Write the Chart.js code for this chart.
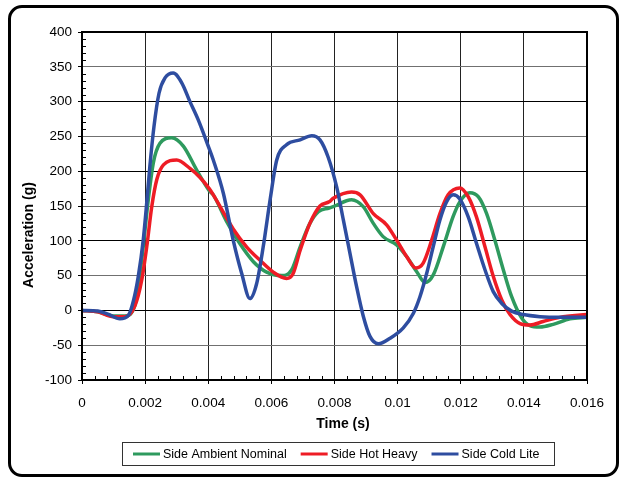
<!DOCTYPE html>
<html>
<head>
<meta charset="utf-8">
<script src="https://cdn.jsdelivr.net/npm/chart.js@4.4.1/dist/chart.umd.min.js"></script>
<style>
  html, body { margin: 0; padding: 0; background: #fff; }
  #frame {
    position: absolute; left: 8px; top: 5px; width: 611px; height: 472px;
    box-sizing: border-box; border: 3px solid #000; border-radius: 14px;
  }
  #wrap { position: absolute; left: 0; top: 0; width: 621px; height: 478px; }
</style>
</head>
<body>
<div id="frame"></div>
<div id="wrap"><canvas id="chart" width="621" height="478"></canvas></div>
<script>
// Series (time in s, acceleration in g)
const seriesLabels = ['Side Ambient Nominal', 'Side Hot Heavy', 'Side Cold Lite'];
const seriesColors = ['#2E9A5E', '#EE1C25', '#2E4DA0'];

const ambientTime = [0, 0.0005, 0.001, 0.00136, 0.00168, 0.00189, 0.0021, 0.00226, 0.00247, 0.00284,
  0.00321, 0.00363, 0.00403, 0.00416, 0.00458, 0.005, 0.00543, 0.00585, 0.00633, 0.00664,
  0.00691, 0.00722, 0.00749, 0.00783, 0.00796, 0.00854, 0.00891, 0.00923, 0.00954, 0.00997,
  0.01029, 0.0106, 0.01087, 0.01113, 0.01145, 0.01176, 0.01197, 0.01229, 0.01256, 0.01282,
  0.01308, 0.01335, 0.01361, 0.01393, 0.01419, 0.01451, 0.01493, 0.01546, 0.016];
const ambientAcc = [0, -2, -8, -8, 8, 72, 159, 212, 240, 248,
  236, 202, 172, 166, 128, 96, 70, 55, 50, 58,
  91, 125, 142, 147, 149, 159, 149, 125, 106, 94,
  77, 56, 40, 51, 92, 135, 156, 169, 163, 139,
  101, 58, 20, -11, -22, -24, -20, -12, -10];

const hotTime = [0, 0.0005, 0.00099, 0.00136, 0.00168, 0.00189, 0.00205, 0.00221, 0.00237, 0.00258,
  0.003, 0.00342, 0.00374, 0.00403, 0.00416, 0.00458, 0.00479, 0.00522, 0.00564, 0.00606,
  0.00648, 0.00669, 0.00691, 0.00722, 0.00754, 0.00783, 0.00796, 0.00854, 0.00881, 0.00923,
  0.00965, 0.00997, 0.01029, 0.01058, 0.01081, 0.01108, 0.01134, 0.0116, 0.01197, 0.01224,
  0.0125, 0.01277, 0.01303, 0.0133, 0.01356, 0.01388, 0.01419, 0.01461, 0.01514, 0.016];
const hotAcc = [0, -2, -9, -9, 7, 43, 91, 149, 188, 209,
  216, 204, 191, 175, 166, 133, 117, 91, 72, 55,
  46, 53, 86, 125, 150, 156, 161, 170, 166, 139,
  123, 101, 77, 61, 68, 101, 139, 166, 176, 163,
  134, 91, 49, 15, -6, -19, -21, -16, -10, -6];

const coldTime = [0, 0.0005, 0.0008, 0.0012, 0.00147, 0.00163, 0.00178, 0.00194, 0.00205, 0.00215,
  0.00228, 0.00244, 0.00263, 0.00289, 0.00316, 0.00342, 0.00368, 0.004, 0.00416, 0.00448,
  0.00479, 0.00506, 0.00532, 0.00553, 0.00574, 0.00596, 0.00617, 0.00648, 0.00691, 0.00728,
  0.00754, 0.0078, 0.00807, 0.00828, 0.00849, 0.0087, 0.00891, 0.00912, 0.00939, 0.00976,
  0.01018, 0.0105, 0.01071, 0.01092, 0.01113, 0.01134, 0.01155, 0.01176, 0.01197, 0.01224,
  0.0125, 0.01277, 0.01303, 0.0133, 0.01361, 0.01398, 0.01451, 0.01514, 0.016];
const coldAcc = [0, -1, -5, -12, -7, 14, 48, 101, 154, 207,
  264, 312, 334, 341, 327, 300, 274, 236, 216, 168,
  101, 53, 17, 38, 91, 159, 216, 238, 245, 251,
  245, 220, 177, 130, 82, 34, -8, -37, -48, -40,
  -25, -4, 20, 53, 92, 130, 156, 166, 160, 134,
  96, 58, 27, 10, -1, -6, -9, -10, -10];

const xTickValues = [0, 0.002, 0.004, 0.006, 0.008, 0.01, 0.012, 0.014, 0.016];
const xTickLabels = ['0', '0.002', '0.004', '0.006', '0.008', '0.01', '0.012', '0.014', '0.016'];
const yTickValues = [-100, -50, 0, 50, 100, 150, 200, 250, 300, 350, 400];

const FONT = '"Liberation Sans", Arial, sans-serif';

function toPoints(ts, vs) {
  return ts.map((t, i) => ({ x: t, y: vs[i] }));
}

// plot frame, inner minor ticks, axis titles and boxed legend
const decorations = {
  id: 'decorations',
  afterDraw(chart) {
    const { ctx, chartArea: a, scales: { x, y } } = chart;
    ctx.save();

    ctx.strokeStyle = '#000';
    ctx.lineWidth = 1;
    ctx.beginPath();
    for (let v = -100; v <= 400; v += 10) {
      if (v % 50 === 0) continue;
      const py = Math.round(y.getPixelForValue(v)) + 0.5;
      ctx.moveTo(a.left, py);
      ctx.lineTo(a.left + 4, py);
    }
    for (let k = 0; k <= 40; k++) {
      if (k % 5 === 0) continue;
      const px = Math.round(x.getPixelForValue(k * 0.0004)) + 0.5;
      ctx.moveTo(px, a.bottom);
      ctx.lineTo(px, a.bottom - 4);
    }
    ctx.stroke();

    ctx.lineWidth = 2;
    ctx.strokeRect(a.left, a.top, a.right - a.left, a.bottom - a.top);

    // axis titles
    ctx.fillStyle = '#000';
    ctx.font = 'bold 14px ' + FONT;
    ctx.textAlign = 'center';
    ctx.textBaseline = 'middle';
    ctx.fillText('Time (s)', 343, 424);
    ctx.save();
    ctx.translate(29, 235);
    ctx.rotate(-Math.PI / 2);
    ctx.fillText('Acceleration (g)', 0, 0);
    ctx.restore();

    // legend
    ctx.lineWidth = 1;
    ctx.strokeStyle = '#333';
    ctx.strokeRect(122.5, 442.5, 432, 23);
    ctx.font = '12.5px ' + FONT;
    ctx.textAlign = 'left';
    let lx = 133;
    chart.data.datasets.forEach(ds => {
      ctx.strokeStyle = ds.borderColor;
      ctx.lineWidth = 3;
      ctx.beginPath();
      ctx.moveTo(lx, 454);
      ctx.lineTo(lx + 27, 454);
      ctx.stroke();
      ctx.fillStyle = '#000';
      ctx.fillText(ds.label, lx + 30, 454.5);
      lx += 30 + ctx.measureText(ds.label).width + 14;
    });

    ctx.restore();
  }
};

const ctx = document.getElementById('chart').getContext('2d');
new Chart(ctx, {
  type: 'line',
  data: {
    datasets: [
      { label: seriesLabels[0], data: toPoints(ambientTime, ambientAcc), order: 2 },
      { label: seriesLabels[1], data: toPoints(hotTime, hotAcc), order: 1 },
      { label: seriesLabels[2], data: toPoints(coldTime, coldAcc), order: 0 }
    ].map((ds, i) => Object.assign(ds, {
      borderColor: seriesColors[i],
      backgroundColor: seriesColors[i],
      borderWidth: 3.5,
      pointRadius: 0,
      cubicInterpolationMode: 'monotone',
      borderJoinStyle: 'round',
      borderCapStyle: 'round',
      fill: false
    }))
  },
  options: {
    responsive: false,
    animation: false,
    layout: { padding: { top: 32, right: 34, bottom: 0, left: 0 } },
    plugins: {
      legend: { display: false },
      tooltip: { enabled: false }
    },
    scales: {
      x: {
        type: 'linear',
        min: 0,
        max: 0.016,
        afterFit: s => { s.height = 98; },
        afterBuildTicks: s => { s.ticks = xTickValues.map(v => ({ value: v })); },
        ticks: {
          autoSkip: false,
          maxRotation: 0,
          padding: 11,
          color: '#000',
          font: { family: FONT, size: 13.5 },
          callback: (v, i) => xTickLabels[i]
        },
        grid: { color: '#222', tickColor: '#000', tickLength: 4 },
        border: { color: '#000', width: 1 }
      },
      y: {
        type: 'linear',
        min: -100,
        max: 400,
        afterFit: s => { s.width = 82; },
        afterBuildTicks: s => { s.ticks = yTickValues.map(v => ({ value: v })); },
        ticks: {
          padding: 6,
          color: '#000',
          font: { family: FONT, size: 13.5 },
          callback: v => String(v)
        },
        grid: {
          color: c => (c.tick && c.tick.value % 100 === 0) ? '#000' : '#707070',
          tickColor: '#000',
          tickLength: 4
        },
        border: { color: '#000', width: 1 }
      }
    }
  },
  plugins: [decorations]
});
</script>
</body>
</html>
